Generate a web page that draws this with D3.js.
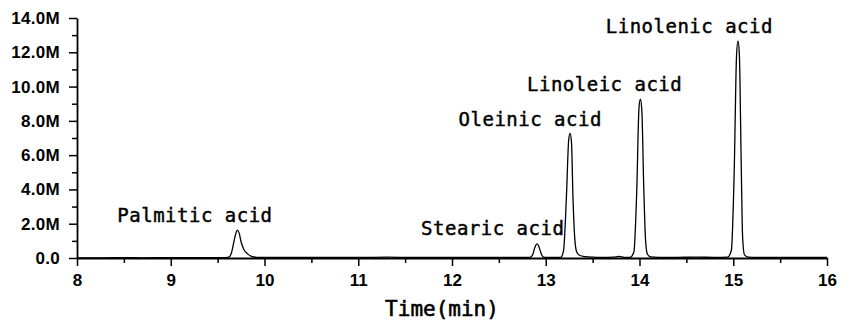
<!DOCTYPE html>
<html>
<head>
<meta charset="utf-8">
<script src="https://cdn.jsdelivr.net/npm/d3@7"></script>
<style>
  body { margin: 0; background: #fff; }
  svg { display: block; }
</style>
</head>
<body>
<div id="chromatogram"></div>
<script>
// retention time (min) and signal (millions)
var times = [8.00, 8.30, 8.50, 8.70, 9.00, 9.30, 9.55, 9.62,
  9.65, 9.67, 9.69, 9.71, 9.73, 9.75, 9.78, 9.82, 9.86, 9.92, 10.10,
  10.50, 11.00, 11.30, 11.60, 12.00, 12.40, 12.70, 12.83,
  12.86, 12.88, 12.90, 12.91, 12.93, 12.95, 12.97, 13.00, 13.10, 13.16,
  13.19, 13.22, 13.245, 13.26, 13.275, 13.29, 13.31, 13.33, 13.36, 13.42, 13.50,
  13.60, 13.72, 13.78, 13.84, 13.90,
  13.94, 13.97, 13.995, 14.01, 14.025, 14.045, 14.065, 14.085, 14.12, 14.20,
  14.40, 14.60, 14.80, 14.94,
  14.98, 15.01, 15.035, 15.05, 15.065, 15.085, 15.10, 15.12, 15.16, 15.25,
  15.50, 15.80, 16.00];
var signal = [0.00, 0.01, 0.02, 0.01, 0.02, 0.02, 0.02, 0.05,
  0.35, 0.85, 1.35, 1.63, 1.45, 0.95, 0.50, 0.24, 0.10, 0.04, 0.03,
  0.03, 0.03, 0.05, 0.03, 0.03, 0.03, 0.03, 0.03,
  0.18, 0.55, 0.80, 0.82, 0.62, 0.28, 0.07, 0.03, 0.03, 0.04,
  0.45, 3.50, 6.90, 7.27, 6.70, 3.60, 1.10, 0.35, 0.16, 0.08, 0.05,
  0.04, 0.05, 0.09, 0.04, 0.04,
  0.35, 3.80, 8.80, 9.26, 8.60, 4.20, 1.00, 0.22, 0.06, 0.04,
  0.04, 0.05, 0.04, 0.05,
  0.45, 5.00, 11.80, 12.66, 11.90, 5.50, 1.20, 0.18, 0.05, 0.04,
  0.04, 0.03, 0.03];

// peak annotations: text, left edge (min), baseline (millions)
var peakNames = ["Palmitic acid", "Stearic acid", "Oleinic acid", "Linoleic acid", "Linolenic acid"];
var labelTimes = [8.43, 11.67, 12.07, 12.80, 13.64];
var labelValues = [2.10, 1.34, 7.70, 9.74, 13.13];

var xTicks = [8, 9, 10, 11, 12, 13, 14, 15, 16];
var yTicks = [0, 2, 4, 6, 8, 10, 12, 14];

var width = 852, height = 322;
var margin = {top: 18, right: 25, bottom: 64, left: 77};

var svg = d3.select("#chromatogram")
  .append("svg")
    .attr("width", width)
    .attr("height", height);

var x = d3.scaleLinear()
  .domain([8, 16])
  .range([margin.left, width - margin.right]);

var y = d3.scaleLinear()
  .domain([0, 14])
  .range([height - margin.bottom, margin.top]);

// the trace
var points = times.map(function(t, i){ return [t, signal[i]]; });
var line = d3.line()
  .x(function(d){ return x(d[0]); })
  .y(function(d){ return y(d[1]); })
  .curve(d3.curveMonotoneX);

svg.append("path")
  .datum(points)
  .attr("d", line)
  .attr("fill", "none")
  .attr("stroke", "#000")
  .attr("stroke-width", 1.3)
  .attr("stroke-linejoin", "round");

// minor ticks first, then the main axes over them
svg.append("g")
  .attr("transform", "translate(0," + y(0) + ")")
  .call(d3.axisBottom(x).tickValues(d3.range(8.5, 16, 1)).tickSize(5).tickFormat(""))
  .call(function(g){ g.select(".domain").remove(); })
  .selectAll("line").attr("stroke-width", 1.5);

svg.append("g")
  .attr("transform", "translate(" + margin.left + ",0)")
  .call(d3.axisLeft(y).tickValues(d3.range(1, 14, 2)).tickSize(5).tickFormat(""))
  .call(function(g){ g.select(".domain").remove(); })
  .selectAll("line").attr("stroke-width", 1.5);

var xAxis = svg.append("g")
  .attr("transform", "translate(0," + y(0) + ")")
  .call(d3.axisBottom(x).tickValues(xTicks).tickSize(8).tickSizeOuter(0).tickPadding(8));

var yAxis = svg.append("g")
  .attr("transform", "translate(" + margin.left + ",0)")
  .call(d3.axisLeft(y).tickValues(yTicks).tickSize(8).tickSizeOuter(0).tickPadding(9)
    .tickFormat(function(d){ return d === 0 ? "0.0" : d.toFixed(1) + "M"; }));

[xAxis, yAxis].forEach(function(g){
  g.select(".domain").attr("stroke-width", 1.8);
  g.selectAll(".tick line").attr("stroke-width", 1.5);
  g.selectAll(".tick text")
    .attr("font-family", "'Liberation Sans', Arial, sans-serif")
    .attr("font-weight", "bold")
    .attr("fill", "#000");
});
xAxis.selectAll(".tick text").attr("font-size", 17);
yAxis.selectAll(".tick text").attr("font-size", 17).attr("letter-spacing", 0.3);

// peak names
svg.append("g")
  .selectAll("text")
  .data(peakNames)
  .enter()
  .append("text")
    .attr("x", function(d, i){ return x(labelTimes[i]); })
    .attr("y", function(d, i){ return y(labelValues[i]); })
    .attr("font-family", "'DejaVu Sans Mono', monospace")
    .attr("font-size", 19)
    .attr("letter-spacing", 0.5)
    .attr("fill", "#000")
    .attr("stroke", "#000")
    .attr("stroke-width", 0.45)
    .text(function(d){ return d; });

// axis title
svg.append("text")
  .attr("x", 442)
  .attr("y", 316)
  .attr("text-anchor", "middle")
  .attr("font-family", "'DejaVu Sans Mono', monospace")
  .attr("font-size", 21)
  .attr("fill", "#000")
  .attr("stroke", "#000")
  .attr("stroke-width", 0.6)
  .text("Time(min)");
</script>
</body>
</html>
